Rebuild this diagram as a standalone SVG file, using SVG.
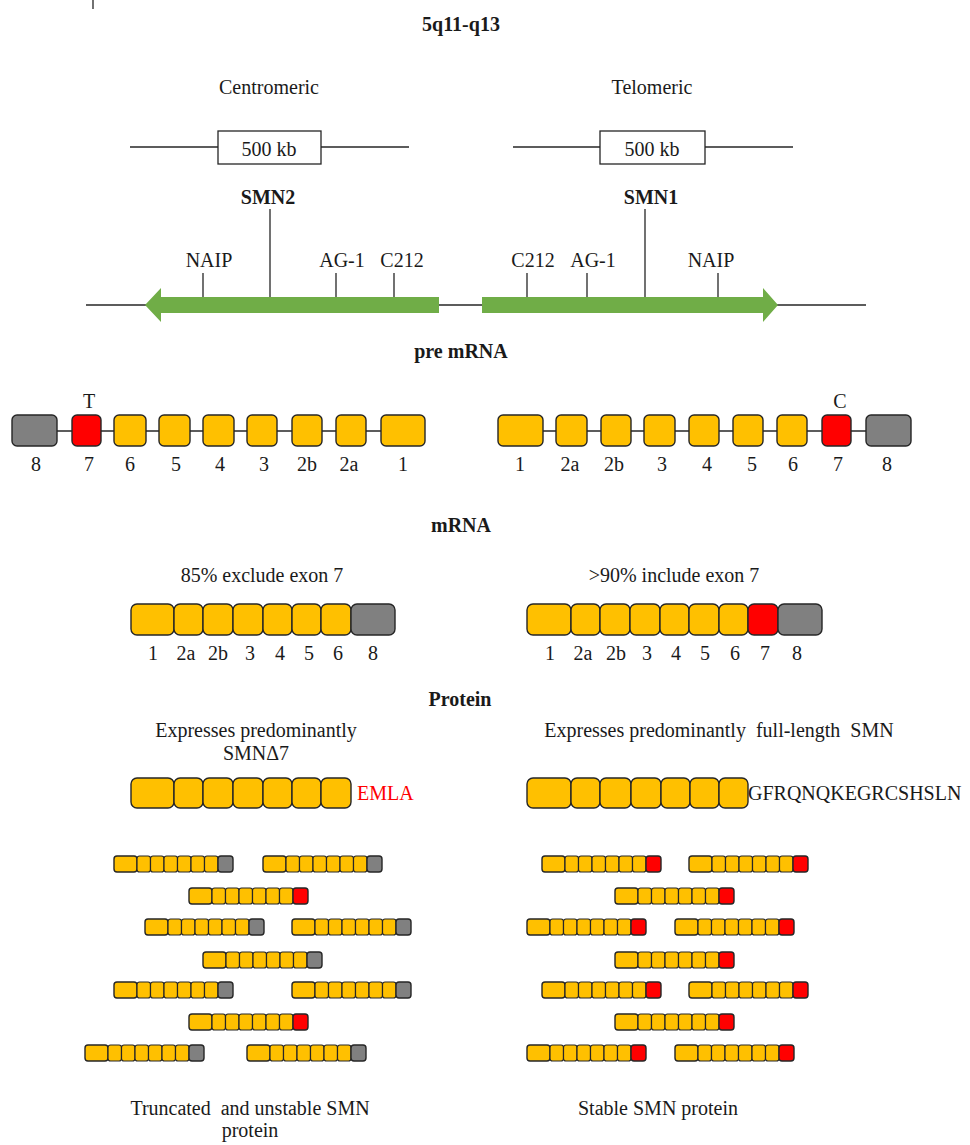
<svg xmlns="http://www.w3.org/2000/svg" xmlns:xlink="http://www.w3.org/1999/xlink" width="970" height="1145" viewBox="0 0 970 1145">
<style>
text{font-family:"Liberation Serif","Times New Roman",serif;font-size:20px;fill:#1a1a1a;text-anchor:middle}
.b{font-weight:bold}
.ln{stroke:#262626;stroke-width:1.3;fill:none}
.bx{stroke:#262626;stroke-width:1.4}
.y{fill:#FFC000}
.r{fill:#FF0000}
.g{fill:#808080}
.grn{fill:#70AD47}
.sc{stroke:#262626;stroke-width:1.2}
</style>
<defs>
<g id="cells">
<rect class="bx y" x="0" y="0" width="23" height="16" rx="3"/>
<rect class="sc y" x="23" y="0" width="13.5" height="16" rx="2.5"/>
<rect class="sc y" x="36.5" y="0" width="13.5" height="16" rx="2.5"/>
<rect class="sc y" x="50" y="0" width="13.5" height="16" rx="2.5"/>
<rect class="sc y" x="63.5" y="0" width="13.5" height="16" rx="2.5"/>
<rect class="sc y" x="77" y="0" width="13.5" height="16" rx="2.5"/>
<rect class="sc y" x="90.5" y="0" width="13.5" height="16" rx="2.5"/>
</g>
<g id="barG"><use xlink:href="#cells"/><rect class="bx g" x="104" y="0" width="15" height="16" rx="3"/></g>
<g id="barR"><use xlink:href="#cells"/><rect class="bx r" x="104" y="0" width="15" height="16" rx="3"/></g>
</defs>
<rect width="970" height="1145" fill="#fff"/>
<line class="ln" x1="93" y1="0" x2="93" y2="9"/>
<text class="b" x="461" y="31">5q11-q13</text>

<g id="centromeric">
<text x="269" y="94">Centromeric</text>
<line class="ln" x1="130" y1="147" x2="218" y2="147"/>
<line class="ln" x1="321" y1="147" x2="409" y2="147"/>
<rect class="ln" x="218" y="131" width="103" height="33" fill="#fff"/>
<text x="269" y="156">500 kb</text>
</g>
<g id="telomeric">
<text x="652" y="94">Telomeric</text>
<line class="ln" x1="513" y1="147" x2="600" y2="147"/>
<line class="ln" x1="705" y1="147" x2="793" y2="147"/>
<rect class="ln" x="600" y="131" width="105" height="33" fill="#fff"/>
<text x="652" y="156">500 kb</text>
</g>

<g id="connectors">
<line class="ln" x1="86" y1="305" x2="150" y2="305"/>
<line class="ln" x1="435" y1="305" x2="486" y2="305"/>
<line class="ln" x1="772" y1="305" x2="866" y2="305"/>
<line class="ln" x1="270" y1="209" x2="270" y2="297"/>
<line class="ln" x1="203" y1="273" x2="203" y2="297"/>
<line class="ln" x1="336" y1="273" x2="336" y2="297"/>
<line class="ln" x1="394" y1="273" x2="394" y2="297"/>
<line class="ln" x1="645" y1="209" x2="645" y2="297"/>
<line class="ln" x1="527" y1="273" x2="527" y2="297"/>
<line class="ln" x1="587" y1="273" x2="587" y2="297"/>
<line class="ln" x1="718" y1="273" x2="718" y2="297"/>
<line class="ln" x1="57" y1="431" x2="381" y2="431"/>
<line class="ln" x1="543" y1="431" x2="866" y2="431"/>
</g>

<g id="smn2">
<text class="b" x="268" y="204">SMN2</text>
<polygon class="grn" points="145,305 161,288 161,297 439,297 439,313 161,313 161,322"/>
<text x="209" y="267">NAIP</text>
<text x="342" y="267">AG-1</text>
<text x="402" y="267">C212</text>
</g>
<g id="smn1">
<text class="b" x="651" y="204">SMN1</text>
<polygon class="grn" points="482,297 763,297 763,288 778,305 763,322 763,313 482,313"/>
<text x="533" y="267">C212</text>
<text x="593" y="267">AG-1</text>
<text x="711" y="267">NAIP</text>
</g>

<text class="b" x="461" y="358">pre mRNA</text>

<g id="pre-smn2">
<rect class="bx g" x="12" y="415" width="45" height="31" rx="5"/>
<rect class="bx r" x="72" y="415" width="29" height="31" rx="5"/>
<rect class="bx y" x="114" y="415" width="32" height="31" rx="5"/>
<rect class="bx y" x="159" y="415" width="31" height="31" rx="5"/>
<rect class="bx y" x="203" y="415" width="31" height="31" rx="5"/>
<rect class="bx y" x="247" y="415" width="30" height="31" rx="5"/>
<rect class="bx y" x="292" y="415" width="30" height="31" rx="5"/>
<rect class="bx y" x="336" y="415" width="30" height="31" rx="5"/>
<rect class="bx y" x="381" y="415" width="44" height="31" rx="5"/>
<text x="89" y="408">T</text>
<text x="36" y="471">8</text>
<text x="89" y="471">7</text>
<text x="130" y="471">6</text>
<text x="176" y="471">5</text>
<text x="220" y="471">4</text>
<text x="264" y="471">3</text>
<text x="307" y="471">2b</text>
<text x="349" y="471">2a</text>
<text x="403" y="471">1</text>
</g>
<g id="pre-smn1">
<rect class="bx y" x="498" y="415" width="45" height="31" rx="5"/>
<rect class="bx y" x="556" y="415" width="31" height="31" rx="5"/>
<rect class="bx y" x="601" y="415" width="30" height="31" rx="5"/>
<rect class="bx y" x="644" y="415" width="31" height="31" rx="5"/>
<rect class="bx y" x="689" y="415" width="30" height="31" rx="5"/>
<rect class="bx y" x="733" y="415" width="30" height="31" rx="5"/>
<rect class="bx y" x="777" y="415" width="30" height="31" rx="5"/>
<rect class="bx r" x="822" y="415" width="29" height="31" rx="5"/>
<rect class="bx g" x="866" y="415" width="45" height="31" rx="5"/>
<text x="840" y="408">C</text>
<text x="520" y="471">1</text>
<text x="570" y="471">2a</text>
<text x="614" y="471">2b</text>
<text x="662" y="471">3</text>
<text x="707" y="471">4</text>
<text x="752" y="471">5</text>
<text x="793" y="471">6</text>
<text x="838" y="471">7</text>
<text x="887" y="471">8</text>
</g>

<text class="b" x="461" y="532">mRNA</text>

<g id="mrna-smn2">
<text x="262" y="582">85% exclude exon 7</text>
<rect class="bx y" x="131" y="604" width="43" height="31" rx="6"/>
<rect class="bx y" x="174" y="604" width="29" height="31" rx="6"/>
<rect class="bx y" x="203" y="604" width="30" height="31" rx="6"/>
<rect class="bx y" x="233" y="604" width="30" height="31" rx="6"/>
<rect class="bx y" x="263" y="604" width="29" height="31" rx="6"/>
<rect class="bx y" x="292" y="604" width="29" height="31" rx="6"/>
<rect class="bx y" x="321" y="604" width="30" height="31" rx="6"/>
<rect class="bx g" x="351" y="604" width="44" height="31" rx="6"/>
<text x="153" y="660">1</text>
<text x="186" y="660">2a</text>
<text x="218" y="660">2b</text>
<text x="250" y="660">3</text>
<text x="280" y="660">4</text>
<text x="309" y="660">5</text>
<text x="338" y="660">6</text>
<text x="373" y="660">8</text>
</g>
<g id="mrna-smn1">
<text x="674" y="582">&gt;90% include exon 7</text>
<rect class="bx y" x="527" y="604" width="44" height="31" rx="6"/>
<rect class="bx y" x="571" y="604" width="29" height="31" rx="6"/>
<rect class="bx y" x="600" y="604" width="30" height="31" rx="6"/>
<rect class="bx y" x="630" y="604" width="30" height="31" rx="6"/>
<rect class="bx y" x="660" y="604" width="29" height="31" rx="6"/>
<rect class="bx y" x="689" y="604" width="30" height="31" rx="6"/>
<rect class="bx y" x="719" y="604" width="29" height="31" rx="6"/>
<rect class="bx r" x="748" y="604" width="30" height="31" rx="6"/>
<rect class="bx g" x="778" y="604" width="44" height="31" rx="6"/>
<text x="550" y="660">1</text>
<text x="583" y="660">2a</text>
<text x="616" y="660">2b</text>
<text x="647" y="660">3</text>
<text x="676" y="660">4</text>
<text x="705" y="660">5</text>
<text x="735" y="660">6</text>
<text x="765" y="660">7</text>
<text x="797" y="660">8</text>
</g>

<text class="b" x="460" y="706">Protein</text>

<g id="protein-smn2">
<text x="256" y="737">Expresses predominantly</text>
<text x="256" y="760">SMNΔ7</text>
<rect class="bx y" x="131" y="778" width="43" height="30" rx="6"/>
<rect class="bx y" x="174" y="778" width="29" height="30" rx="6"/>
<rect class="bx y" x="203" y="778" width="30" height="30" rx="6"/>
<rect class="bx y" x="233" y="778" width="30" height="30" rx="6"/>
<rect class="bx y" x="263" y="778" width="29" height="30" rx="6"/>
<rect class="bx y" x="292" y="778" width="29" height="30" rx="6"/>
<rect class="bx y" x="321" y="778" width="30" height="30" rx="6"/>
<text x="357" y="800" style="text-anchor:start;fill:#FF0000">EMLA</text>
</g>
<g id="protein-smn1">
<text x="719" y="737" xml:space="preserve">Expresses predominantly  full-length  SMN</text>
<rect class="bx y" x="527" y="778" width="44" height="30" rx="6"/>
<rect class="bx y" x="571" y="778" width="29" height="30" rx="6"/>
<rect class="bx y" x="600" y="778" width="31" height="30" rx="6"/>
<rect class="bx y" x="631" y="778" width="30" height="30" rx="6"/>
<rect class="bx y" x="661" y="778" width="29" height="30" rx="6"/>
<rect class="bx y" x="690" y="778" width="29" height="30" rx="6"/>
<rect class="bx y" x="719" y="778" width="29" height="30" rx="6"/>
<text x="748" y="800" style="text-anchor:start">GFRQNQKEGRCSHSLN</text>
</g>

<g id="truncated-pool">
<use xlink:href="#barG" x="114" y="856"/>
<use xlink:href="#barG" x="263" y="856"/>
<use xlink:href="#barR" x="189" y="888"/>
<use xlink:href="#barG" x="145" y="919"/>
<use xlink:href="#barG" x="292" y="919"/>
<use xlink:href="#barG" x="203" y="952"/>
<use xlink:href="#barG" x="114" y="982"/>
<use xlink:href="#barG" x="292" y="982"/>
<use xlink:href="#barR" x="189" y="1014"/>
<use xlink:href="#barG" x="85" y="1045"/>
<use xlink:href="#barG" x="247" y="1045"/>
<text x="250" y="1115" xml:space="preserve">Truncated  and unstable SMN</text>
<text x="250" y="1137">protein</text>
</g>
<g id="stable-pool">
<use xlink:href="#barR" x="542" y="856"/>
<use xlink:href="#barR" x="689" y="856"/>
<use xlink:href="#barR" x="615" y="888"/>
<use xlink:href="#barR" x="527" y="919"/>
<use xlink:href="#barR" x="675" y="919"/>
<use xlink:href="#barR" x="615" y="952"/>
<use xlink:href="#barR" x="542" y="982"/>
<use xlink:href="#barR" x="689" y="982"/>
<use xlink:href="#barR" x="615" y="1014"/>
<use xlink:href="#barR" x="527" y="1045"/>
<use xlink:href="#barR" x="675" y="1045"/>
<text x="658" y="1115">Stable SMN protein</text>
</g>
</svg>
